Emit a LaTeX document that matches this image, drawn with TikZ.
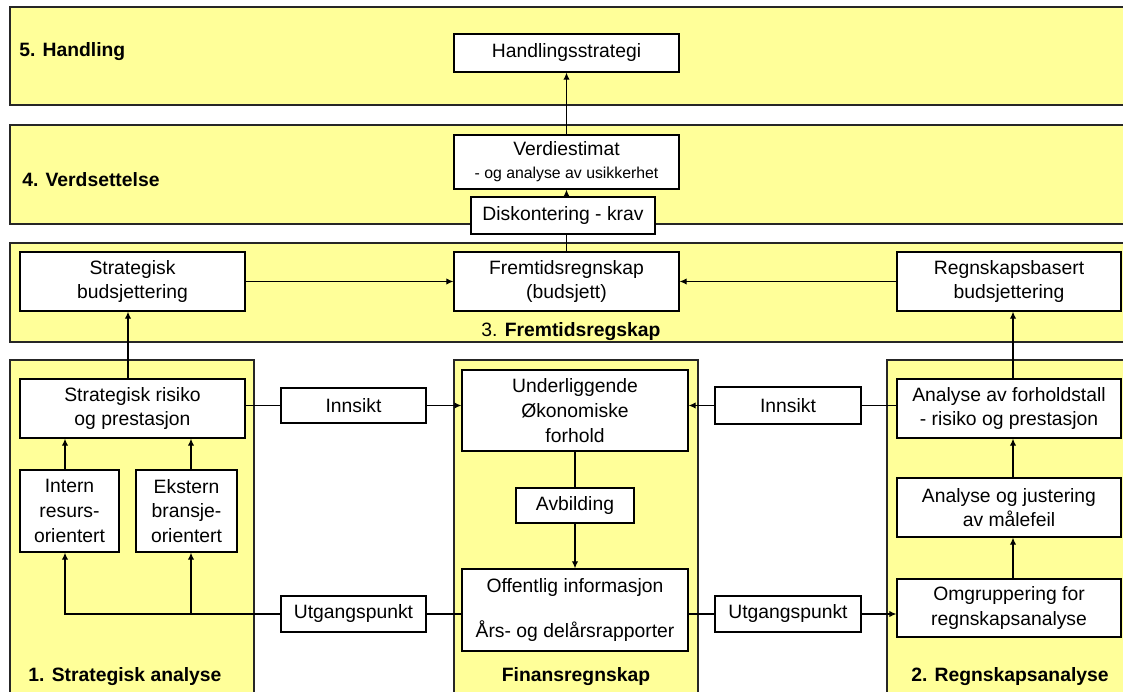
\documentclass[tikz,border=0pt]{standalone}
\usepackage{fontspec}
\setmainfont{Liberation Sans}
\usetikzlibrary{arrows.meta}
\definecolor{bandyellow}{RGB}{255,255,153}

\tikzset{
  band/.style={draw=black!85,fill=bandyellow,line width=0.8pt},
  box/.style={draw,fill=white,line width=0.8pt,align=center,inner sep=1pt,
    font=\fontsize{11}{14}\selectfont},
  bandlabel/.style={inner sep=0pt,font=\fontsize{11}{13}\selectfont\bfseries},
  link/.style={line width=0.6pt},
  flow/.style={line width=0.6pt,-{Latex[length=4pt,width=3.6pt]}}
}

\begin{document}
\begin{tikzpicture}[x=0.02cm,y=-0.02cm]
\clip (0,0) rectangle (1123,692);
\fill[white] (0,0) rectangle (1123,692);

% Bands: 5, 4, 3
\draw[band] (10,7) rectangle (1140,105);
\draw[band] (10,125) rectangle (1140,224);
\draw[band] (10,243) rectangle (1140,342);
% Columns: 1, Finansregnskap, 2
\draw[band] (10,360) rectangle (254,710);
\draw[band] (454,360) rectangle (698,710);
\draw[band] (887,360) rectangle (1140,710);

% Band labels
\node[bandlabel,anchor=west] (lblhand) at (19,52) {5. Handling};
\node[bandlabel,anchor=west] (lblverdi) at (22,180) {4. Verdsettelse};
\node[inner sep=0pt,font=\fontsize{11}{13}\selectfont] (lblfremt) at (571,332) {3. \textbf{Fremtidsregskap}};
\node[bandlabel] (lblstrat) at (125,677) {1. Strategisk analyse};
\node[bandlabel] (lblfin) at (576,677) {Finansregnskap};
\node[bandlabel] (lblregn) at (1010,677) {2. Regnskapsanalyse};

% Top stack
\node[box,minimum width=4.5cm,minimum height=0.76cm] (hand) at (566.5,53) {Handlingsstrategi};
\node[box,minimum width=4.5cm,minimum height=1.08cm] (verdi) at (566.5,162)
  {Verdiestimat\\[-1pt]{\fontsize{9}{11}\selectfont - og analyse av usikkerhet}};
\node[box,minimum width=3.68cm,minimum height=0.74cm] (disk) at (563,215.5) {Diskontering - krav};
\node[box,minimum width=4.5cm,minimum height=1.18cm] (fremt) at (566.5,281.5) {Fremtidsregnskap\\(budsjett)};
\node[box,minimum width=4.5cm,minimum height=1.18cm] (stratbud) at (132.5,281.5) {Strategisk\\budsjettering};
\node[box,minimum width=4.48cm,minimum height=1.18cm] (regnbud) at (1009,281.5) {Regnskapsbasert\\budsjettering};

% Left: strategic analysis
\node[box,minimum width=4.5cm,minimum height=1.18cm] (stratrisk) at (132.5,408.5) {Strategisk risiko\\og prestasjon};
\node[box,minimum width=1.98cm,minimum height=1.64cm] (intern) at (69.5,511) {Intern\\resurs-\\orientert};
\node[box,minimum width=2.02cm,minimum height=1.64cm] (ekstern) at (186.5,511) {Ekstern\\bransje-\\orientert};
\node[box,minimum width=2.9cm,minimum height=0.7cm] (innL) at (353.5,405.5) {Innsikt};
\node[box,minimum width=2.9cm,minimum height=0.72cm] (utgL) at (353.5,614) {Utgangspunkt};

% Middle: financial statements
\node[box,minimum width=4.52cm,minimum height=1.62cm] (under) at (575,410.5) {Underliggende\\Økonomiske\\forhold};
\node[box,minimum width=2.36cm,minimum height=0.7cm] (avb) at (575,505.5) {Avbilding};
\node[box,minimum width=4.52cm,minimum height=1.64cm] (offentlig) at (575,610)
  {Offentlig informasjon\\[12pt]Års- og delårsrapporter};

% Right: accounting analysis
\node[box,minimum width=2.92cm,minimum height=0.74cm] (innR) at (788,405.5) {Innsikt};
\node[box,minimum width=2.92cm,minimum height=0.72cm] (utgR) at (788,614) {Utgangspunkt};
\node[box,minimum width=4.48cm,minimum height=1.18cm] (forhold) at (1009,408.5) {Analyse av forholdstall\\- risiko og prestasjon};
\node[box,minimum width=4.48cm,minimum height=1.18cm] (justering) at (1009,507.5) {Analyse og justering\\av målefeil};
\node[box,minimum width=4.48cm,minimum height=1.16cm] (omgr) at (1009,608) {Omgruppering for\\regnskapsanalyse};

% Connectors
\draw[link] (fremt.north) -- (fremt.north |- disk.south);
\draw[flow] (fremt.north |- disk.north) -- (verdi.south);
\draw[flow] (verdi.north) -- (hand.south);
\draw[flow] (stratbud.east) -- (fremt.west);
\draw[flow] (regnbud.west) -- (fremt.east);
\draw[flow] (stratrisk.north -| 128,0) -- (stratbud.south -| 128,0);
\draw[link] (stratrisk.east |- innL.west) -- (innL.west);
\draw[flow] (innL.east) -- (under.west |- innL.east);
\draw[link] (forhold.west |- innR.east) -- (innR.east);
\draw[flow] (innR.west) -- (under.east |- innR.west);
\draw[flow] (intern.north -| 65,0) -- (stratrisk.south -| 65,0);
\draw[flow] (ekstern.north -| 191,0) -- (stratrisk.south -| 191,0);
\draw[link] (under.south) -- (avb.north);
\draw[flow] (avb.south) -- (offentlig.north);
\draw[link] (offentlig.west |- utgL.east) -- (utgL.east);
\coordinate (corner) at (65,614);
\draw[flow] (utgL.west) -- (corner) -- (intern.south -| corner);
\draw[flow] (191,614) -- (ekstern.south -| 191,0);
\draw[link] (offentlig.east |- utgR.west) -- (utgR.west);
\draw[flow] (utgR.east) -- (omgr.west |- utgR.east);
\draw[flow] (omgr.north -| 1013,0) -- (justering.south -| 1013,0);
\draw[flow] (justering.north -| 1013,0) -- (forhold.south -| 1013,0);
\draw[flow] (forhold.north -| 1013,0) -- (regnbud.south -| 1013,0);
\end{tikzpicture}
\end{document}
